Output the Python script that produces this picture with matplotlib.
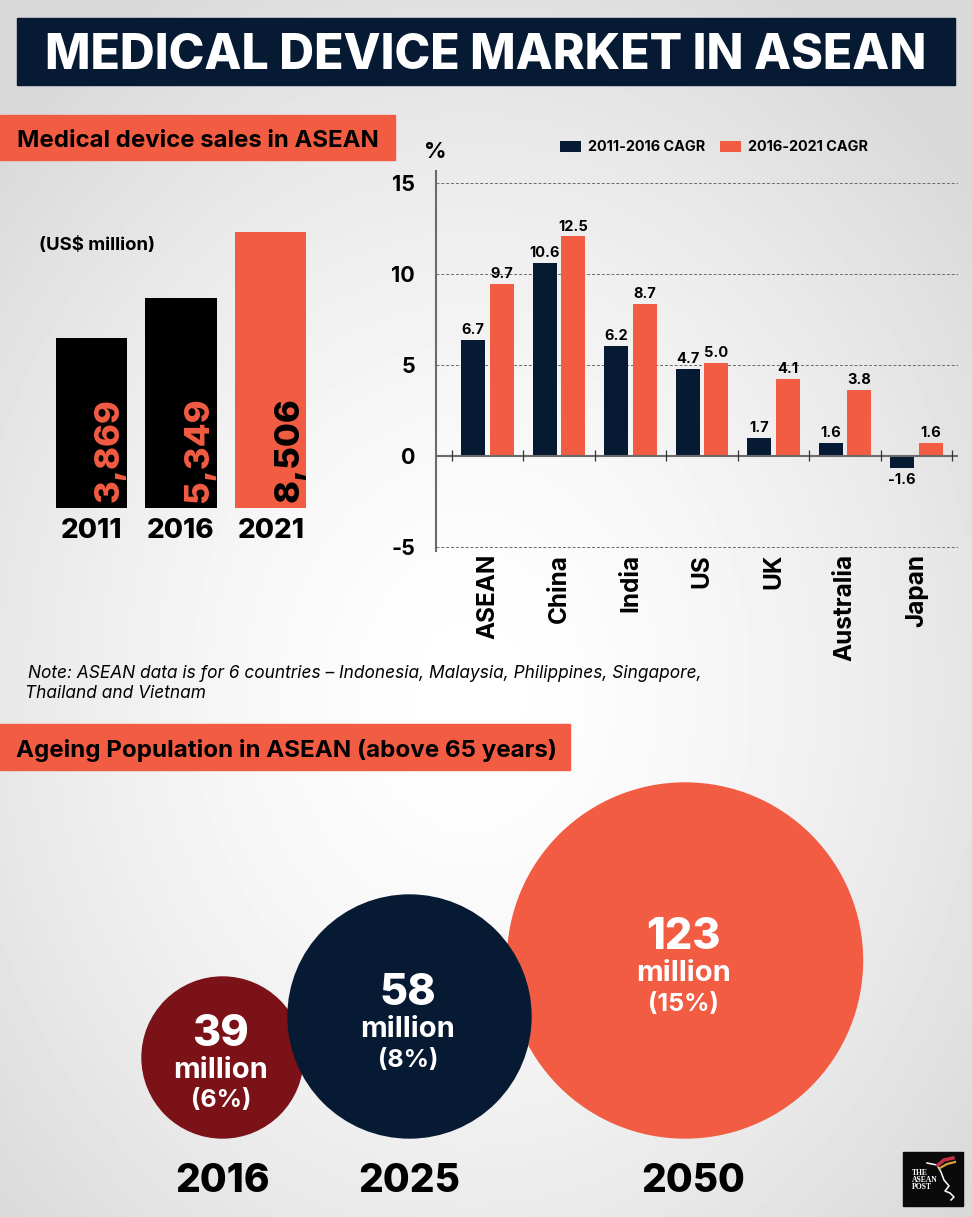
import numpy as np
import matplotlib
matplotlib.use('Agg')
import matplotlib.pyplot as plt
from matplotlib.patches import Rectangle, Circle

# sales chart
sales_years = ['2011', '2016', '2021']
sales_labels = ['3,869', '5,349', '8,506']
sales_heights = [5240, 6470, 8506]  # bars in the picture are not to scale with their labels

# cagr chart
countries = ['ASEAN', 'China', 'India', 'US', 'UK', 'Australia', 'Japan']
cagr_2011_16 = [6.35, 10.6, 6.05, 4.75, 1.0, 0.7, -0.7]
cagr_2016_21 = [9.45, 12.05, 8.35, 5.1, 4.2, 3.6, 0.7]
labels_2011_16 = ['6.7', '10.6', '6.2', '4.7', '1.7', '1.6', '-1.6']
labels_2016_21 = ['9.7', '12.5', '8.7', '5.0', '4.1', '3.8', '1.6']
y_ticks = [15, 10, 5, 0, -5]

# ageing population
pop_years = ['2016', '2025', '2050']
pop_millions = ['39', '58', '123']
pop_share = ['(6%)', '(8%)', '(15%)']
pop_radius = [80.5, 121.5, 177.5]  # drawn radius, px

NAVY = '#071a33'
ORANGE = '#f25c43'
MAROON = '#7b1218'
W, H = 972, 1217

plt.rcParams['font.family'] = ['Inter', 'DejaVu Sans']
plt.rcParams['font.weight'] = 'bold'

fig = plt.figure(figsize=(W / 100, H / 100), dpi=100)


def px_axes(x0, y0, x1, y1):
    # axes from picture pixel box (y downwards)
    return fig.add_axes([x0 / W, 1 - y1 / H, (x1 - x0) / W, (y1 - y0) / H])


# page, in pixels
bg = px_axes(0, 0, W, H)
yy, xx = np.mgrid[0:H:300j, 0:W:240j]
dist = np.sqrt(((xx - 470) / 620) ** 2 + ((yy - 690) / 760) ** 2)
shade = np.clip(1.0 - 0.14 * dist ** 1.5, 0.85, 1.0)
bg.imshow(shade, cmap='gray', vmin=0, vmax=1, extent=[0, W, H, 0], aspect='auto')
bg.set_xlim(0, W)
bg.set_ylim(H, 0)
bg.axis('off')

# title and section banners
bg.add_patch(Rectangle((17, 18), 938, 67, color=NAVY))
bg.text(486, 56, 'MEDICAL DEVICE MARKET IN ASEAN', color='white', fontsize=34.7,
        fontweight='heavy', ha='center', va='center')
bg.add_patch(Rectangle((0, 115), 395, 45, color=ORANGE))
bg.text(17, 141, 'Medical device sales in ASEAN', color='black', fontsize=17.25, va='center')
bg.add_patch(Rectangle((0, 724), 570, 46, color=ORANGE))
bg.text(16, 751, 'Ageing Population in ASEAN (above 65 years)', color='black', fontsize=17.4, va='center')

bg.text(39, 245, '(US$ million)', fontsize=13.4, color='black', va='center')
bg.text(28, 673, 'Note: ASEAN data is for 6 countries \u2013 Indonesia, Malaysia, Philippines, Singapore,',
        fontsize=12.45, fontstyle='italic', fontweight='normal', color='black', va='center')
bg.text(25, 693.5, 'Thailand and Vietnam', fontsize=12.45, fontstyle='italic', fontweight='normal',
        color='black', va='center')

# sales bars
ax = px_axes(56, 232, 306, 508)
ax.set_xlim(-0.39, 2.39)
ax.set_ylim(0, max(sales_heights))
ax.axis('off')
sales_colors = ['black', 'black', ORANGE]
sales_text = [ORANGE, ORANGE, 'black']
ax.bar(range(3), sales_heights, width=0.79, color=sales_colors)
for i in range(3):
    ax.annotate(sales_labels[i], (i + 0.205, 0), xytext=(0, 4), textcoords='offset points',
                rotation=90, ha='center', va='bottom', color=sales_text[i],
                fontsize=25, fontweight='heavy')
    ax.annotate(sales_years[i], (i, 0), xytext=(0, -16.5), textcoords='offset points',
                ha='center', va='center', fontsize=20, fontweight='heavy', color='black',
                annotation_clip=False)

# cagr bars
ax2 = px_axes(436, 171, 958, 551)
ax2.patch.set_alpha(0)
px_per_unit = 18.2
ax2.set_ylim((455.7 - 551) / px_per_unit, (455.7 - 171) / px_per_unit)
ax2.set_xlim(-0.72, 6.58)
pos = np.arange(len(countries))
bar_w = 0.331
ax2.set_axisbelow(True)
ax2.yaxis.grid(True, linestyle=(0, (3, 2)), color='#6b6b6b', linewidth=0.7)
b1 = ax2.bar(pos - 0.199, cagr_2011_16, bar_w, color=NAVY, label='2011-2016 CAGR')
b2 = ax2.bar(pos + 0.199, cagr_2016_21, bar_w, color=ORANGE, label='2016-2021 CAGR')
for i in pos:
    below = cagr_2011_16[i] < 0
    ax2.annotate(labels_2011_16[i], (i - 0.199, cagr_2011_16[i]), xytext=(0, -3 if below else 2),
                 textcoords='offset points', ha='center', va='top' if below else 'bottom',
                 fontsize=10.5, color='black')
    ax2.annotate(labels_2016_21[i], (i + 0.199, cagr_2016_21[i]), xytext=(0, 2),
                 textcoords='offset points', ha='center', va='bottom', fontsize=10.5, color='black')
    ax2.annotate(countries[i], (i, 0), xycoords=('data', 'axes fraction'), xytext=(0, -2),
                 textcoords='offset points', rotation=90, ha='center', va='top',
                 fontsize=17.5, color='black', annotation_clip=False)

for s in ['top', 'right', 'bottom']:
    ax2.spines[s].set_visible(False)
ax2.spines['left'].set_color('#6b6b6b')
ax2.spines['left'].set_linewidth(1.5)
ax2.axhline(0, color='#6b6b6b', linewidth=1.5)
ax2.set_yticks(y_ticks)
ax2.set_yticklabels([str(t) for t in y_ticks], fontsize=15.5, color='black')
ax2.tick_params(axis='y', length=0, pad=15)
# little ticks between the groups, sitting on the zero line
ax2.set_xticks([])
ax2.vlines(np.arange(len(countries) + 1) - 0.5, -0.3, 0.3, color='#333333', linewidth=0.9)
bg.text(435, 152, '%', fontsize=16, color='black', ha='center', va='center')
ax2.legend(handles=[b1, b2], loc='center left', bbox_to_anchor=(0.2385, 1.062), ncol=2, frameon=False,
           fontsize=10.4, handlelength=1.4, handleheight=0.75, handletextpad=0.5, columnspacing=1.05,
           borderpad=0, borderaxespad=0, labelcolor='black')

# ageing population circles, all standing on the same baseline
base_y = 1138
centers_x = [222.5, 409.5, 685]
year_x = [222.5, 409.5, 693]
circle_colors = [MAROON, NAVY, ORANGE]
for i in [2, 0, 1]:
    r = pop_radius[i]
    cx, cy = centers_x[i], base_y - r
    bg.add_patch(Circle((cx, cy), r, color=circle_colors[i], zorder=3))
    bg.text(cx - 1.5, cy - 23, pop_millions[i], color='white', fontsize=31, fontweight='heavy',
            ha='center', va='center', zorder=4)
    bg.text(cx - 1.5, cy + 13, 'million', color='white', fontsize=21, ha='center', va='center', zorder=4)
    bg.text(cx - 1.5, cy + 43.5, pop_share[i], color='white', fontsize=18, ha='center', va='center', zorder=4)
    bg.text(year_x[i], 1181, pop_years[i], color='black', fontsize=28, fontweight='heavy',
            ha='center', va='center', zorder=4)

# logo
bg.add_patch(Rectangle((903, 1152), 60, 54, color='#0a0a0a', zorder=3))
for j, word in enumerate(['THE', 'ASEAN', 'POST']):
    bg.text(912, 1173 + j * 7, word, color='white', fontsize=5.5, family='Liberation Serif',
            va='center', zorder=4)
bg.plot([927, 937, 941, 944, 949, 945, 950, 954, 951],
        [1163, 1165, 1172, 1180, 1186, 1191, 1193, 1197, 1200],
        color='white', linewidth=1.1, zorder=4)
bg.plot([938, 944, 953], [1165, 1160, 1158], color='#c2314a', linewidth=2.5, zorder=4)
bg.plot([940, 947, 955], [1168, 1164, 1162], color='#d9a13a', linewidth=1.6, zorder=4)

fig.savefig('out.png', dpi=100)
